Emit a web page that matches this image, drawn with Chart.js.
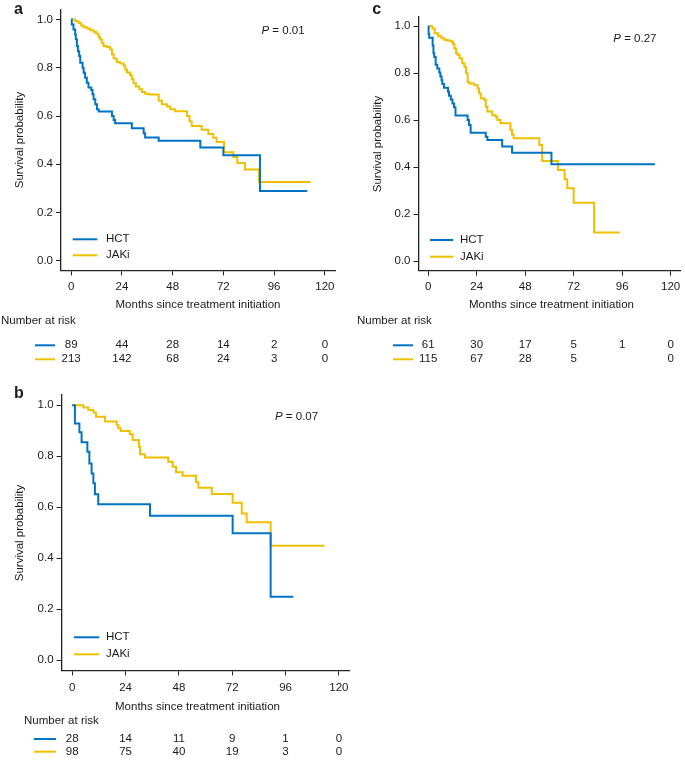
<!DOCTYPE html>
<html><head><meta charset="utf-8">
<script src="https://cdn.jsdelivr.net/npm/chart.js@4/dist/chart.umd.min.js"></script>
<style>
html,body{margin:0;padding:0;background:#fff;}
#wrap{position:relative;width:685px;height:761px;overflow:hidden;background:#fff;}
canvas{position:absolute;}
</style></head><body>
<div id="wrap">
<canvas id="pa" width="340" height="375" style="left:0px;top:0px;width:340px;height:375px"></canvas>
<canvas id="pc" width="345" height="375" style="left:340px;top:0px;width:345px;height:375px"></canvas>
<canvas id="pb" width="355" height="381" style="left:0px;top:380px;width:355px;height:381px"></canvas>
</div>
<script>
// ---------- data ----------
const xTicks = [0, 24, 48, 72, 96, 120];
const yTicks = [0, 0.2, 0.4, 0.6, 0.8, 1.0];
const seriesNames = ['HCT', 'JAKi'];

// Panel a
const aHctTime = [0, 0.3, 1.1, 1.9, 2.2, 2.7, 3.2, 3.8, 4.3, 5.4, 5.9, 6.6, 7.4, 8.2, 9.5, 10.1, 10.6, 11.4, 12.2, 13.0, 19.3, 20.1, 20.8, 28.7, 34.3, 35.0, 41.4, 61.1, 72.0, 89.3, 111.7];
const aHctSurv = [1, 0.979, 0.959, 0.938, 0.918, 0.890, 0.869, 0.849, 0.821, 0.800, 0.779, 0.759, 0.738, 0.718, 0.708, 0.690, 0.670, 0.649, 0.628, 0.619, 0.600, 0.584, 0.570, 0.549, 0.529, 0.511, 0.497, 0.470, 0.437, 0.289, 0.289];
const aJakTime = [0, 1.9, 3.5, 4.75, 5.85, 7.4, 9.0, 10.6, 11.85, 12.95, 13.7, 14.5, 15.3, 16.9, 18.5, 19.3, 20.1, 21.6, 23.2, 24.8, 25.6, 26.4, 27.9, 28.7, 29.5, 30.6, 32.2, 33.5, 35.0, 36.9, 41.4, 42.9, 45.3, 46.9, 49.2, 54.8, 56.0, 57.0, 61.7, 64.9, 67.2, 68.8, 72.3, 76.7, 78.6, 82.2, 88.9, 113.3];
const aJakSurv = [1, 0.993, 0.986, 0.975, 0.968, 0.963, 0.956, 0.949, 0.941, 0.928, 0.917, 0.904, 0.890, 0.886, 0.876, 0.856, 0.838, 0.824, 0.818, 0.810, 0.793, 0.780, 0.769, 0.752, 0.736, 0.722, 0.711, 0.700, 0.692, 0.689, 0.663, 0.649, 0.639, 0.628, 0.620, 0.600, 0.578, 0.559, 0.543, 0.526, 0.510, 0.492, 0.450, 0.430, 0.405, 0.378, 0.326, 0.326];
const aRiskHct = [89, 44, 28, 14, 2, 0];
const aRiskJak = [213, 142, 68, 24, 3, 0];
const aPval = '0.01';

// Panel c
const cHctTime = [0, 0.2, 0.5, 2.2, 2.6, 3.0, 3.7, 4.5, 5.5, 6.0, 6.6, 7.0, 7.8, 9.8, 10.3, 11.2, 12.0, 12.8, 13.5, 19.5, 20.2, 21.0, 28.5, 29.3, 36.6, 41.5, 61.0, 112.2];
const cHctSurv = [1, 0.967, 0.951, 0.918, 0.885, 0.869, 0.836, 0.820, 0.803, 0.787, 0.770, 0.754, 0.738, 0.721, 0.705, 0.689, 0.672, 0.656, 0.620, 0.601, 0.580, 0.547, 0.530, 0.516, 0.488, 0.462, 0.413, 0.413];
const cJakTime = [0, 2.1, 3.2, 4.9, 6.5, 8.1, 9.8, 11.4, 12.2, 13.0, 13.8, 14.6, 15.5, 16.8, 17.9, 18.7, 19.5, 20.3, 22.8, 24.4, 25.2, 26.0, 27.7, 28.5, 29.3, 31.7, 33.4, 34.2, 35.8, 40.7, 41.5, 42.3, 55.0, 56.4, 64.2, 67.5, 68.8, 72.0, 82.1, 94.8];
const cJakSurv = [1, 0.991, 0.970, 0.959, 0.949, 0.942, 0.938, 0.935, 0.925, 0.906, 0.885, 0.878, 0.864, 0.843, 0.828, 0.800, 0.764, 0.757, 0.750, 0.736, 0.715, 0.694, 0.686, 0.658, 0.637, 0.622, 0.615, 0.601, 0.587, 0.559, 0.538, 0.524, 0.495, 0.427, 0.389, 0.349, 0.311, 0.249, 0.123, 0.123];
const cRiskHct = [61, 30, 17, 5, 1, 0];
const cRiskJak = [115, 67, 28, 5, null, 0];
const cPval = '0.27';

// Panel b
const bHctTime = [0, 1.2, 3.2, 4.2, 6.8, 7.7, 8.7, 9.5, 10.2, 11.7, 35.0, 72.2, 89.3, 99.5];
const bHctSurv = [1, 0.929, 0.894, 0.855, 0.818, 0.772, 0.733, 0.694, 0.651, 0.612, 0.567, 0.498, 0.249, 0.249];
const bJakTime = [0, 5.0, 7.2, 9.5, 10.7, 14.7, 20.0, 20.7, 21.8, 25.9, 27.2, 30.0, 30.5, 32.7, 43.2, 45.2, 46.7, 49.7, 55.7, 56.8, 62.8, 72.2, 76.3, 78.5, 89.3, 113.5];
const bJakSurv = [1, 0.991, 0.982, 0.972, 0.955, 0.936, 0.923, 0.910, 0.899, 0.886, 0.864, 0.838, 0.808, 0.795, 0.779, 0.759, 0.737, 0.724, 0.698, 0.677, 0.652, 0.618, 0.576, 0.541, 0.449, 0.449];
const bRiskHct = [28, 14, 11, 9, 1, 0];
const bRiskJak = [98, 75, 40, 19, 3, 0];
const bPval = '0.07';

// ---------- style ----------
const BLUE = '#0073C2';
const YELLOW = '#EFC000';
const TXT = '#1a1a1a';
const AX = '#222222';
const FAM = "'Liberation Sans', Arial, Helvetica, sans-serif";
const FS = 11.5;

function pts(t, s) { return t.map((v, i) => ({x: v, y: s[i]})); }

function overlay(P) {
  return {
    id: 'ov' + P.letter,
    afterDraw(chart) {
      const ctx = chart.ctx, xs = chart.scales.x;
      ctx.save();
      ctx.fillStyle = TXT;
      // panel letter
      ctx.font = 'bold 16px ' + FAM;
      ctx.textAlign = 'left'; ctx.textBaseline = 'alphabetic';
      ctx.fillText(P.letter, P.letterX, P.letterY);
      // axis titles
      ctx.font = FS + 'px ' + FAM;
      ctx.textAlign = 'center'; ctx.textBaseline = 'middle';
      ctx.fillText('Months since treatment initiation', P.xtX, P.xtY);
      ctx.save();
      ctx.translate(P.ytX, P.ytY); ctx.rotate(-Math.PI / 2);
      ctx.fillText('Survival probability', 0, 0);
      ctx.restore();
      // P value
      ctx.textAlign = 'left'; ctx.textBaseline = 'middle';
      ctx.font = 'italic ' + FS + 'px ' + FAM;
      ctx.fillText('P', P.pX, P.pY);
      const w = ctx.measureText('P').width;
      ctx.font = FS + 'px ' + FAM;
      ctx.fillText(' = ' + P.pval, P.pX + w, P.pY);
      // in-plot legend
      const cols = [BLUE, YELLOW];
      for (let i = 0; i < 2; i++) {
        ctx.strokeStyle = cols[i]; ctx.lineWidth = 2;
        ctx.beginPath(); ctx.moveTo(P.lgX0, P.lgY[i]); ctx.lineTo(P.lgX1, P.lgY[i]); ctx.stroke();
        ctx.fillText(seriesNames[i], P.lgTX, P.lgY[i]);
      }
      // risk table
      ctx.textAlign = 'left';
      ctx.fillText('Number at risk', P.nrX, P.nrY);
      const rows = [P.riskHct, P.riskJak];
      for (let r = 0; r < 2; r++) {
        ctx.strokeStyle = cols[r]; ctx.lineWidth = 2;
        ctx.beginPath(); ctx.moveTo(P.rkX0, P.rkY[r]); ctx.lineTo(P.rkX1, P.rkY[r]); ctx.stroke();
        ctx.textAlign = 'center';
        rows[r].forEach((v, i) => {
          if (v === null) return;
          ctx.fillText(String(v), xs.getPixelForValue(xTicks[i]), P.rkY[r]);
        });
      }
      ctx.restore();
    }
  };
}

function makePanel(id, P) {
  const ctx = document.getElementById(id);
  new Chart(ctx, {
    type: 'line',
    data: {
      datasets: [
        {label: 'HCT', data: pts(P.hctT, P.hctS), borderColor: BLUE, borderWidth: 2, stepped: 'before', pointRadius: 0, fill: false},
        {label: 'JAKi', data: pts(P.jakT, P.jakS), borderColor: YELLOW, borderWidth: 2, stepped: 'before', pointRadius: 0, fill: false}
      ]
    },
    options: {
      responsive: false, animation: false, events: [],
      layout: {padding: {left: 0, right: P.padR, top: P.padT, bottom: P.padB}},
      plugins: {legend: {display: false}, tooltip: {enabled: false}},
      scales: {
        x: {
          type: 'linear', min: -4.8, max: 124.8,
          afterBuildTicks: s => { s.ticks = xTicks.map(v => ({value: v})); },
          afterFit: s => { s.height = P.xH; },
          grid: {drawOnChartArea: false, drawTicks: true, tickLength: 5, color: AX, lineWidth: 1},
          border: {display: true, color: AX, width: 1.3},
          ticks: {padding: P.xPad, autoSkip: false, maxRotation: 0, color: TXT, font: {family: FAM, size: FS}, callback: v => String(v)}
        },
        y: {
          type: 'linear', min: -0.04, max: 1.04,
          afterBuildTicks: s => { s.ticks = yTicks.map(v => ({value: v})); },
          afterFit: s => { s.width = P.yW; },
          grid: {drawOnChartArea: false, drawTicks: true, tickLength: 5, color: AX, lineWidth: 1},
          border: {display: true, color: AX, width: 1.3},
          ticks: {padding: 3, autoSkip: false, color: TXT, font: {family: FAM, size: FS}, callback: v => Number(v).toFixed(1)}
        }
      }
    },
    plugins: [overlay(P)]
  });
}

makePanel('pa', {
  letter: 'a', letterX: 14, letterY: 14,
  hctT: aHctTime, hctS: aHctSurv, jakT: aJakTime, jakS: aJakSurv,
  riskHct: aRiskHct, riskJak: aRiskJak, pval: aPval,
  yW: 61, padT: 9, padR: 5, xH: 41.2, padB: 63.4, xPad: 5,
  xtX: 198, xtY: 305, ytX: 20, ytY: 140,
  pX: 261.5, pY: 31,
  lgX0: 72.7, lgX1: 97.3, lgTX: 106, lgY: [239.3, 255.3],
  nrX: 1, nrY: 320.7, rkX0: 35, rkX1: 55, rkY: [345.3, 359.3]
});

makePanel('pc', {
  letter: 'c', letterX: 32.3, letterY: 13.5,
  hctT: cHctTime, hctS: cHctSurv, jakT: cJakTime, jakS: cJakSurv,
  riskHct: cRiskHct, riskJak: cRiskJak, pval: cPval,
  yW: 78.5, padT: 16.9, padR: 0.9, xH: 41.2, padB: 63.1, xPad: 4.7,
  xtX: 211.5, xtY: 305.3, ytX: 38, ytY: 144,
  pX: 273.3, pY: 38.5,
  lgX0: 90, lgX1: 113.3, lgTX: 120, lgY: [240, 256.7],
  nrX: 17, nrY: 320.7, rkX0: 53, rkX1: 73, rkY: [345.3, 359.3]
});

makePanel('pb', {
  letter: 'b', letterX: 14, letterY: 18,
  hctT: bHctTime, hctS: bHctSurv, jakT: bJakTime, jakS: bJakSurv,
  riskHct: bRiskHct, riskJak: bRiskJak, pval: bPval,
  yW: 61.6, padT: 15.1, padR: 5.5, xH: 42.8, padB: 47.7, xPad: 5.6,
  xtX: 197.5, xtY: 326.7, ytX: 20, ytY: 153,
  pX: 275, pY: 36.7,
  lgX0: 74, lgX1: 99.3, lgTX: 106, lgY: [257.3, 274.3],
  nrX: 24, nrY: 341.3, rkX0: 34, rkX1: 56, rkY: [359, 371.7]
});
</script>
</body></html>
